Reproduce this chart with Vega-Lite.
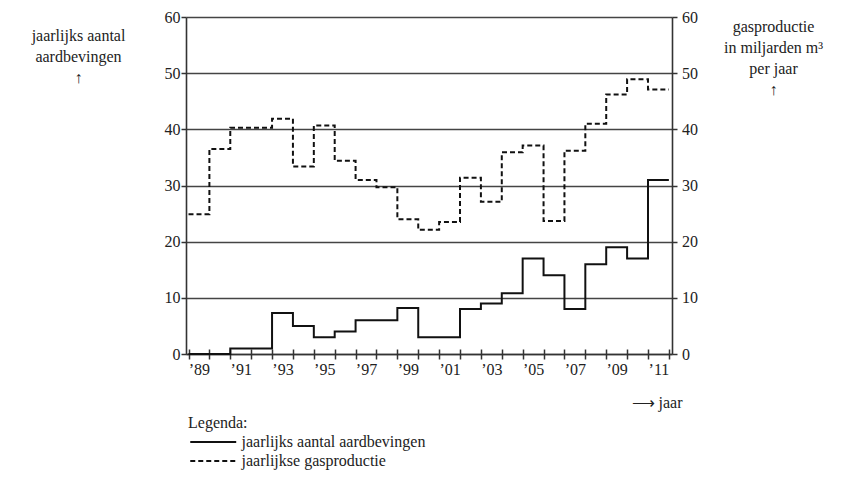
{
  "$schema": "https://vega.github.io/schema/vega-lite/v6.json",
  "width": 486,
  "height": 337,
  "autosize": {"type": "none"},
  "padding": {"left": 186, "top": 17, "right": 172, "bottom": 124},
  "background": "white",
  "config": {
    "font": "Liberation Serif",
    "view": {"stroke": null},
    "axis": {
      "labelFont": "Liberation Serif",
      "labelFontSize": 16,
      "labelColor": "#222",
      "domainColor": "#333",
      "domainWidth": 1.6,
      "tickColor": "#333",
      "tickWidth": 1.5,
      "gridColor": "#444",
      "gridWidth": 1.6,
      "titleFont": "Liberation Serif",
      "titleFontWeight": "normal",
      "titleFontSize": 16,
      "titleColor": "#222"
    },
    "legend": {
      "titleFont": "Liberation Serif",
      "labelFont": "Liberation Serif"
    }
  },
  "datasets": {
    "aardbevingen": [
      {"jaar": 1989, "waarde": 0, "reeks": "jaarlijks aantal aardbevingen"},
      {"jaar": 1990, "waarde": 0, "reeks": "jaarlijks aantal aardbevingen"},
      {"jaar": 1991, "waarde": 1, "reeks": "jaarlijks aantal aardbevingen"},
      {"jaar": 1992, "waarde": 1, "reeks": "jaarlijks aantal aardbevingen"},
      {"jaar": 1993, "waarde": 7.3, "reeks": "jaarlijks aantal aardbevingen"},
      {"jaar": 1994, "waarde": 5, "reeks": "jaarlijks aantal aardbevingen"},
      {"jaar": 1995, "waarde": 3, "reeks": "jaarlijks aantal aardbevingen"},
      {"jaar": 1996, "waarde": 4, "reeks": "jaarlijks aantal aardbevingen"},
      {"jaar": 1997, "waarde": 6, "reeks": "jaarlijks aantal aardbevingen"},
      {"jaar": 1998, "waarde": 6, "reeks": "jaarlijks aantal aardbevingen"},
      {"jaar": 1999, "waarde": 8.2, "reeks": "jaarlijks aantal aardbevingen"},
      {"jaar": 2000, "waarde": 3, "reeks": "jaarlijks aantal aardbevingen"},
      {"jaar": 2001, "waarde": 3, "reeks": "jaarlijks aantal aardbevingen"},
      {"jaar": 2002, "waarde": 8, "reeks": "jaarlijks aantal aardbevingen"},
      {"jaar": 2003, "waarde": 9, "reeks": "jaarlijks aantal aardbevingen"},
      {"jaar": 2004, "waarde": 10.8, "reeks": "jaarlijks aantal aardbevingen"},
      {"jaar": 2005, "waarde": 17, "reeks": "jaarlijks aantal aardbevingen"},
      {"jaar": 2006, "waarde": 14, "reeks": "jaarlijks aantal aardbevingen"},
      {"jaar": 2007, "waarde": 8, "reeks": "jaarlijks aantal aardbevingen"},
      {"jaar": 2008, "waarde": 16, "reeks": "jaarlijks aantal aardbevingen"},
      {"jaar": 2009, "waarde": 19, "reeks": "jaarlijks aantal aardbevingen"},
      {"jaar": 2010, "waarde": 17, "reeks": "jaarlijks aantal aardbevingen"},
      {"jaar": 2011, "waarde": 31, "reeks": "jaarlijks aantal aardbevingen"},
      {"jaar": 2012, "waarde": 31, "reeks": "jaarlijks aantal aardbevingen"}
    ],
    "gas": [
      {"jaar": 1989, "waarde": 24.9, "reeks": "jaarlijkse gasproductie"},
      {"jaar": 1990, "waarde": 36.5, "reeks": "jaarlijkse gasproductie"},
      {"jaar": 1991, "waarde": 40.3, "reeks": "jaarlijkse gasproductie"},
      {"jaar": 1992, "waarde": 40.3, "reeks": "jaarlijkse gasproductie"},
      {"jaar": 1993, "waarde": 41.9, "reeks": "jaarlijkse gasproductie"},
      {"jaar": 1994, "waarde": 33.4, "reeks": "jaarlijkse gasproductie"},
      {"jaar": 1995, "waarde": 40.7, "reeks": "jaarlijkse gasproductie"},
      {"jaar": 1996, "waarde": 34.4, "reeks": "jaarlijkse gasproductie"},
      {"jaar": 1997, "waarde": 31, "reeks": "jaarlijkse gasproductie"},
      {"jaar": 1998, "waarde": 29.7, "reeks": "jaarlijkse gasproductie"},
      {"jaar": 1999, "waarde": 24, "reeks": "jaarlijkse gasproductie"},
      {"jaar": 2000, "waarde": 22.1, "reeks": "jaarlijkse gasproductie"},
      {"jaar": 2001, "waarde": 23.5, "reeks": "jaarlijkse gasproductie"},
      {"jaar": 2002, "waarde": 31.4, "reeks": "jaarlijkse gasproductie"},
      {"jaar": 2003, "waarde": 27.1, "reeks": "jaarlijkse gasproductie"},
      {"jaar": 2004, "waarde": 35.9, "reeks": "jaarlijkse gasproductie"},
      {"jaar": 2005, "waarde": 37.1, "reeks": "jaarlijkse gasproductie"},
      {"jaar": 2006, "waarde": 23.7, "reeks": "jaarlijkse gasproductie"},
      {"jaar": 2007, "waarde": 36.2, "reeks": "jaarlijkse gasproductie"},
      {"jaar": 2008, "waarde": 41, "reeks": "jaarlijkse gasproductie"},
      {"jaar": 2009, "waarde": 46.2, "reeks": "jaarlijkse gasproductie"},
      {"jaar": 2010, "waarde": 48.9, "reeks": "jaarlijkse gasproductie"},
      {"jaar": 2011, "waarde": 47.1, "reeks": "jaarlijkse gasproductie"},
      {"jaar": 2012, "waarde": 47.1, "reeks": "jaarlijkse gasproductie"}
    ]
  },
  "layer": [
    {
      "data": {"name": "aardbevingen"},
      "mark": {"type": "line", "interpolate": "step-after", "color": "#111", "strokeWidth": 2},
      "encoding": {
        "x": {
          "field": "jaar",
          "type": "quantitative",
          "scale": {"domain": [1988.88, 2012.15], "nice": false, "zero": false},
          "axis": {
            "orient": "bottom",
            "values": [1989,1990,1991,1992,1993,1994,1995,1996,1997,1998,1999,2000,2001,2002,2003,2004,2005,2006,2007,2008,2009,2010,2011,2012],
            "labelExpr": "(datum.value % 2 == 1 && datum.value < 2012) ? '’' + substring(toString(datum.value), 2, 4) : ''",
            "labelOffset": 10.44,
            "labelOverlap": false,
            "labelFlush": false,
            "labelBound": false,
            "labelPadding": 2,
            "tickSize": 5,
            "grid": false,
            "title": "⟶ jaar",
            "titleX": 496,
            "titleY": 53,
            "titleAlign": "right",
            "titleBaseline": "alphabetic"
          }
        },
        "y": {
          "field": "waarde",
          "type": "quantitative",
          "scale": {"domain": [0, 60], "nice": false},
          "axis": {
            "orient": "left",
            "values": [0, 10, 20, 30, 40, 50, 60],
            "grid": true,
            "tickSize": 5,
            "labelPadding": 1,
            "title": ["jaarlijks aantal", "aardbevingen", "↑︎"],
            "titleAngle": 0,
            "titleAlign": "center",
            "titleBaseline": "alphabetic",
            "titleX": -108,
            "titleY": 23.7,
            "titleLineHeight": 21
          }
        },
        "strokeDash": {
          "field": "reeks",
          "type": "nominal",
          "scale": {
            "domain": ["jaarlijks aantal aardbevingen", "jaarlijkse gasproductie"],
            "range": [[1, 0], [5, 3]]
          },
          "legend": {
            "orient": "none",
            "legendX": 2,
            "legendY": 398,
            "padding": 0,
            "title": "Legenda:",
            "titleFontSize": 16,
            "titleFontWeight": "normal",
            "titleColor": "#222",
            "titlePadding": 3,
            "labelFontSize": 16,
            "labelColor": "#222",
            "labelLimit": 500,
            "labelOffset": 37.5,
            "rowPadding": 3,
            "symbolType": "M-1,0H7",
            "symbolSize": 132,
            "symbolStrokeWidth": 2,
            "symbolStrokeColor": "#111"
          }
        }
      }
    },
    {
      "data": {"name": "gas"},
      "mark": {"type": "line", "interpolate": "step-after", "color": "#111", "strokeWidth": 2},
      "encoding": {
        "x": {
          "field": "jaar",
          "type": "quantitative",
          "axis": {
            "orient": "bottom",
            "values": [1989,1990,1991,1992,1993,1994,1995,1996,1997,1998,1999,2000,2001,2002,2003,2004,2005,2006,2007,2008,2009,2010,2011,2012],
            "labels": false,
            "domain": false,
            "grid": false,
            "tickSize": -5,
            "title": null
          }
        },
        "y": {
          "field": "waarde",
          "type": "quantitative",
          "scale": {"domain": [0, 60], "nice": false},
          "axis": {
            "orient": "right",
            "values": [0, 10, 20, 30, 40, 50, 60],
            "grid": false,
            "tickSize": 5,
            "labelPadding": 4.5,
            "title": ["gasproductie", "in miljarden m³", "per jaar", "↑︎"],
            "titleAngle": 0,
            "titleAlign": "center",
            "titleBaseline": "alphabetic",
            "titleX": 101,
            "titleY": 14.7,
            "titleLineHeight": 21
          }
        },
        "strokeDash": {"field": "reeks", "type": "nominal"}
      }
    }
  ],
  "resolve": {"scale": {"y": "independent"}, "axis": {"x": "independent"}}
}
